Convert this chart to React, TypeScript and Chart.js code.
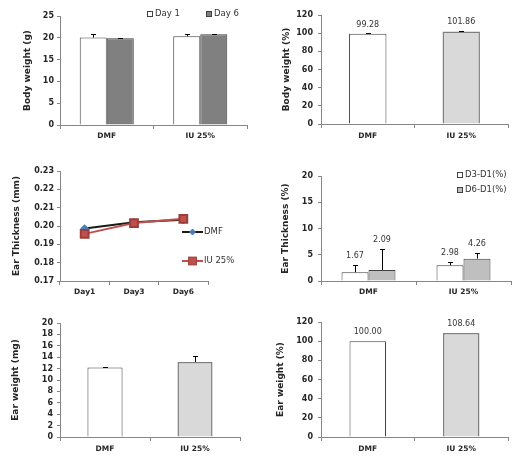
import React, { useEffect, useRef } from "react";
import { Chart, registerables } from "chart.js";
Chart.register(...registerables);

const FONT = "'DejaVu Sans', sans-serif";
const AXIS = "#868686";
const TEXT = "#262626";

// ---------- data ----------
const GROUPS = ["DMF", "IU 25%"];
const DAYS = ["Day1", "Day3", "Day6"];

const BW_DAY1 = [20.05, 20.35];
const BW_DAY1_ERR = [0.9, 0.45];
const BW_DAY6 = [19.9, 20.8];
const BW_DAY6_ERR = [0.05, 0.15];

const BW_PCT = [99.28, 101.86];
const BW_PCT_ERR = [0.4, 0.5];

const ET_DMF = [0.1986, 0.202, 0.2034];
const ET_IU = [0.1957, 0.2016, 0.2039];

const ETP_D3 = [1.67, 2.98];
const ETP_D3_ERR = [1.33, 0.62];
const ETP_D6 = [2.09, 4.26];
const ETP_D6_ERR = [4.1, 1.14];

const EW = [12.2, 13.15];
const EW_ERR = [0.08, 1.1];

const EW_PCT = [100.0, 108.64];

// ---------- plugins ----------
const errorBarPlugin = {
  id: "errorBars",
  afterDatasetsDraw(chart: any) {
    const ctx = chart.ctx;
    const yScale = chart.scales.y;
    chart.data.datasets.forEach((ds: any, i: number) => {
      const meta = chart.getDatasetMeta(i);
      if (meta.hidden) return;
      const errs = ds.errors;
      meta.data.forEach((el: any, j: number) => {
        const v = ds.data[j];
        const e = errs ? errs[j] : 0;
        const yTop = yScale.getPixelForValue(v + e);
        ctx.save();
        if (errs && e > 0) {
          ctx.strokeStyle = "#000";
          ctx.lineWidth = 1;
          const x = Math.round(el.x) + 0.5;
          const yc = Math.round(yTop) + 0.5;
          ctx.beginPath();
          ctx.moveTo(x, el.y);
          ctx.lineTo(x, yc);
          ctx.moveTo(x - 2.5, yc);
          ctx.lineTo(x + 2.5, yc);
          ctx.stroke();
        }
        if (ds.showValues) {
          ctx.fillStyle = "#333";
          ctx.font = `8px ${FONT}`;
          ctx.textAlign = "center";
          ctx.textBaseline = "middle";
          ctx.fillText(v.toFixed(2), el.x, yTop - 9);
        }
        ctx.restore();
      });
    });
  },
};

const legendPlugin = {
  id: "sideLegend",
  afterDraw(chart: any, _args: any, opts: any) {
    if (!opts || !opts.items) return;
    const ctx = chart.ctx;
    ctx.save();
    ctx.font = `8.5px ${FONT}`;
    ctx.textBaseline = "middle";
    ctx.textAlign = "left";
    opts.items.forEach((pos: any, i: number) => {
      const ds = chart.data.datasets[i];
      if (opts.kind === "box") {
        ctx.fillStyle = ds.backgroundColor;
        ctx.strokeStyle = "#404040";
        ctx.lineWidth = 1;
        ctx.fillRect(pos.x + 0.5, pos.y - 2.5, 5, 5);
        ctx.strokeRect(pos.x + 0.5, pos.y - 2.5, 5, 5);
        ctx.fillStyle = "#333";
        ctx.fillText(ds.label, pos.x + 8, pos.y);
      } else {
        ctx.strokeStyle = ds.borderColor;
        ctx.lineWidth = 2;
        ctx.beginPath();
        ctx.moveTo(pos.x, pos.y);
        ctx.lineTo(pos.x + 21, pos.y);
        ctx.stroke();
        const mx = pos.x + 10.5;
        ctx.fillStyle = ds.pointBackgroundColor;
        ctx.strokeStyle = ds.pointBorderColor;
        ctx.lineWidth = 1;
        if (ds.pointStyle === "rectRot") {
          const r = ds.pointRadius;
          ctx.beginPath();
          ctx.moveTo(mx, pos.y - r);
          ctx.lineTo(mx + r, pos.y);
          ctx.lineTo(mx, pos.y + r);
          ctx.lineTo(mx - r, pos.y);
          ctx.closePath();
          ctx.fill();
          ctx.stroke();
        } else {
          const s = ds.pointRadius * Math.SQRT1_2;
          ctx.fillRect(mx - s, pos.y - s, 2 * s, 2 * s);
          ctx.strokeRect(mx - s, pos.y - s, 2 * s, 2 * s);
        }
        ctx.fillStyle = "#333";
        ctx.fillText(ds.label, pos.x + 22, pos.y);
      }
    });
    ctx.restore();
  },
};

// ---------- axis helpers ----------
function yAxis(min: number, max: number, step: number, title: string, width: number, titlePad: number, tickPad: number, fmt?: (v: any) => string) {
  const ticks: any = {
    stepSize: step,
    padding: tickPad,
    autoSkip: false,
    color: TEXT,
    font: { family: FONT, size: 8, weight: "bold" },
  };
  if (fmt) ticks.callback = fmt;
  return {
    min,
    max,
    ticks,
    grid: { display: true, drawOnChartArea: false, drawTicks: true, tickLength: 3, color: AXIS },
    border: { display: true, color: AXIS, width: 1 },
    title: {
      display: true,
      text: title,
      color: TEXT,
      font: { family: FONT, size: 9, weight: "bold" },
      padding: { top: titlePad, bottom: 0 },
    },
    afterFit: (s: any) => {
      s.width = width;
    },
  };
}

function xAxis(pad: number) {
  return {
    offset: true,
    ticks: {
      padding: pad,
      color: TEXT,
      font: { family: FONT, size: 7.5, weight: "bold" },
      maxRotation: 0,
      autoSkip: false,
    },
    grid: { display: true, drawOnChartArea: false, drawTicks: true, tickLength: 4, color: AXIS, offset: true },
    border: { display: true, color: AXIS, width: 1 },
    afterFit: (s: any) => {
      s.height = 25;
    },
  };
}

function baseOptions(padding: any, scales: any, extraPlugins: any = {}) {
  return {
    responsive: false,
    devicePixelRatio: 1,
    animation: false,
    layout: { padding },
    plugins: { legend: { display: false }, tooltip: { enabled: false }, ...extraPlugins },
    scales,
  };
}

// ---------- panels ----------
const panels: any[] = [
  {
    L: 18, T: 0, W: 245, H: 155,
    config: () => ({
      type: "bar",
      data: {
        labels: GROUPS,
        datasets: [
          { label: "Day 1", data: BW_DAY1, errors: BW_DAY1_ERR, backgroundColor: "#ffffff", borderColor: "#404040", borderWidth: 1, categoryPercentage: 0.578, barPercentage: 1 },
          { label: "Day 6", data: BW_DAY6, errors: BW_DAY6_ERR, backgroundColor: "#808080", borderColor: "#404040", borderWidth: 1, categoryPercentage: 0.578, barPercentage: 1 },
        ],
      },
      options: baseOptions(
        { top: 16, right: 16, bottom: 5, left: 0 },
        { x: xAxis(3), y: yAxis(0, 25, 5, "Body weight (g)", 42, 4.5, 3) },
        { sideLegend: { kind: "box", items: [{ x: 129, y: 14 }, { x: 188, y: 14 }] } }
      ),
      plugins: [errorBarPlugin, legendPlugin],
    }),
  },
  {
    L: 276, T: 0, W: 250, H: 155,
    config: () => ({
      type: "bar",
      data: {
        labels: GROUPS,
        datasets: [
          { label: "Body weight (%)", data: BW_PCT, errors: BW_PCT_ERR, showValues: true, backgroundColor: ["#ffffff", "#d9d9d9"], borderColor: ["#404040", "#7f7f7f"], borderWidth: [1, 1.5], categoryPercentage: 0.4, barPercentage: 1 },
        ],
      },
      options: baseOptions(
        { top: 15, right: 18, bottom: 6, left: 0 },
        { x: xAxis(4), y: yAxis(0, 120, 20, "Body weight (%)", 45, 5.5, 5) }
      ),
      plugins: [errorBarPlugin],
    }),
  },
  {
    L: 6, T: 160, W: 257, H: 150,
    config: () => ({
      type: "line",
      data: {
        labels: DAYS,
        datasets: [
          { label: "DMF", data: ET_DMF, order: 1, borderColor: "#1a1a1a", borderWidth: 2, pointStyle: "rectRot", pointRadius: 3, pointBackgroundColor: "#4a7ebb", pointBorderColor: "#4a7ebb", tension: 0 },
          { label: "IU 25%", data: ET_IU, order: 0, borderColor: "#c0504d", borderWidth: 2, pointStyle: "rect", pointRadius: 5.5, pointBackgroundColor: "#c0504d", pointBorderColor: "#9b3d3a", tension: 0 },
        ],
      },
      options: baseOptions(
        { top: 11, right: 55, bottom: 4, left: 0 },
        { x: xAxis(3), y: yAxis(0.17, 0.23, 0.01, "Ear Thickness (mm)", 54, 5.5, 3, (v: any) => Number(v).toFixed(2)) },
        { sideLegend: { kind: "line", items: [{ x: 176, y: 72 }, { x: 176, y: 101 }] } }
      ),
      plugins: [legendPlugin],
    }),
  },
  {
    L: 275, T: 160, W: 251, H: 150,
    config: () => ({
      type: "bar",
      data: {
        labels: GROUPS,
        datasets: [
          { label: "D3-D1(%)", data: ETP_D3, errors: ETP_D3_ERR, showValues: true, backgroundColor: "#ffffff", borderColor: "#404040", borderWidth: 1, categoryPercentage: 0.568, barPercentage: 1 },
          { label: "D6-D1(%)", data: ETP_D6, errors: ETP_D6_ERR, showValues: true, backgroundColor: "#bfbfbf", borderColor: "#404040", borderWidth: 1, categoryPercentage: 0.568, barPercentage: 1 },
        ],
      },
      options: baseOptions(
        { top: 16, right: 15, bottom: 4, left: 0 },
        { x: xAxis(2.5), y: yAxis(0, 20, 5, "Ear Thickness (%)", 46, 5.5, 5) },
        { sideLegend: { kind: "box", items: [{ x: 182, y: 15 }, { x: 182, y: 30 }] } }
      ),
      plugins: [errorBarPlugin, legendPlugin],
    }),
  },
  {
    L: 5, T: 310, W: 258, H: 163,
    config: () => ({
      type: "bar",
      data: {
        labels: GROUPS,
        datasets: [
          { label: "Ear weight (mg)", data: EW, errors: EW_ERR, backgroundColor: ["#ffffff", "#d9d9d9"], borderColor: ["#404040", "#7f7f7f"], borderWidth: [1, 1.5], categoryPercentage: 0.39, barPercentage: 1 },
        ],
      },
      options: baseOptions(
        { top: 13, right: 23, bottom: 11, left: 0 },
        { x: xAxis(4), y: yAxis(0, 20, 2, "Ear weight (mg)", 55, 5.5, 4) }
      ),
      plugins: [errorBarPlugin],
    }),
  },
  {
    L: 270, T: 310, W: 256, H: 163,
    config: () => ({
      type: "bar",
      data: {
        labels: GROUPS,
        datasets: [
          { label: "Ear weight (%)", data: EW_PCT, showValues: true, backgroundColor: ["#ffffff", "#d9d9d9"], borderColor: ["#404040", "#7f7f7f"], borderWidth: [1, 1.5], categoryPercentage: 0.39, barPercentage: 1 },
        ],
      },
      options: baseOptions(
        { top: 12, right: 18, bottom: 11, left: 0 },
        { x: xAxis(3.5), y: yAxis(0, 120, 20, "Ear weight (%)", 51, 5.5, 5) }
      ),
      plugins: [errorBarPlugin],
    }),
  },
];

function ChartPanel({ L, T, W, H, config }: any) {
  const ref = useRef<HTMLCanvasElement | null>(null);
  useEffect(() => {
    if (!ref.current) return;
    const chart = new Chart(ref.current, config());
    return () => chart.destroy();
  }, []);
  return (
    <canvas
      ref={ref}
      width={W}
      height={H}
      style={{ position: "absolute", left: L, top: T, width: W, height: H }}
    />
  );
}

export default function App() {
  return (
    <div style={{ position: "absolute", left: 0, top: 0, width: 526, height: 473, background: "#ffffff", overflow: "hidden" }}>
      {panels.map((p, i) => (
        <ChartPanel key={i} {...p} />
      ))}
    </div>
  );
}
